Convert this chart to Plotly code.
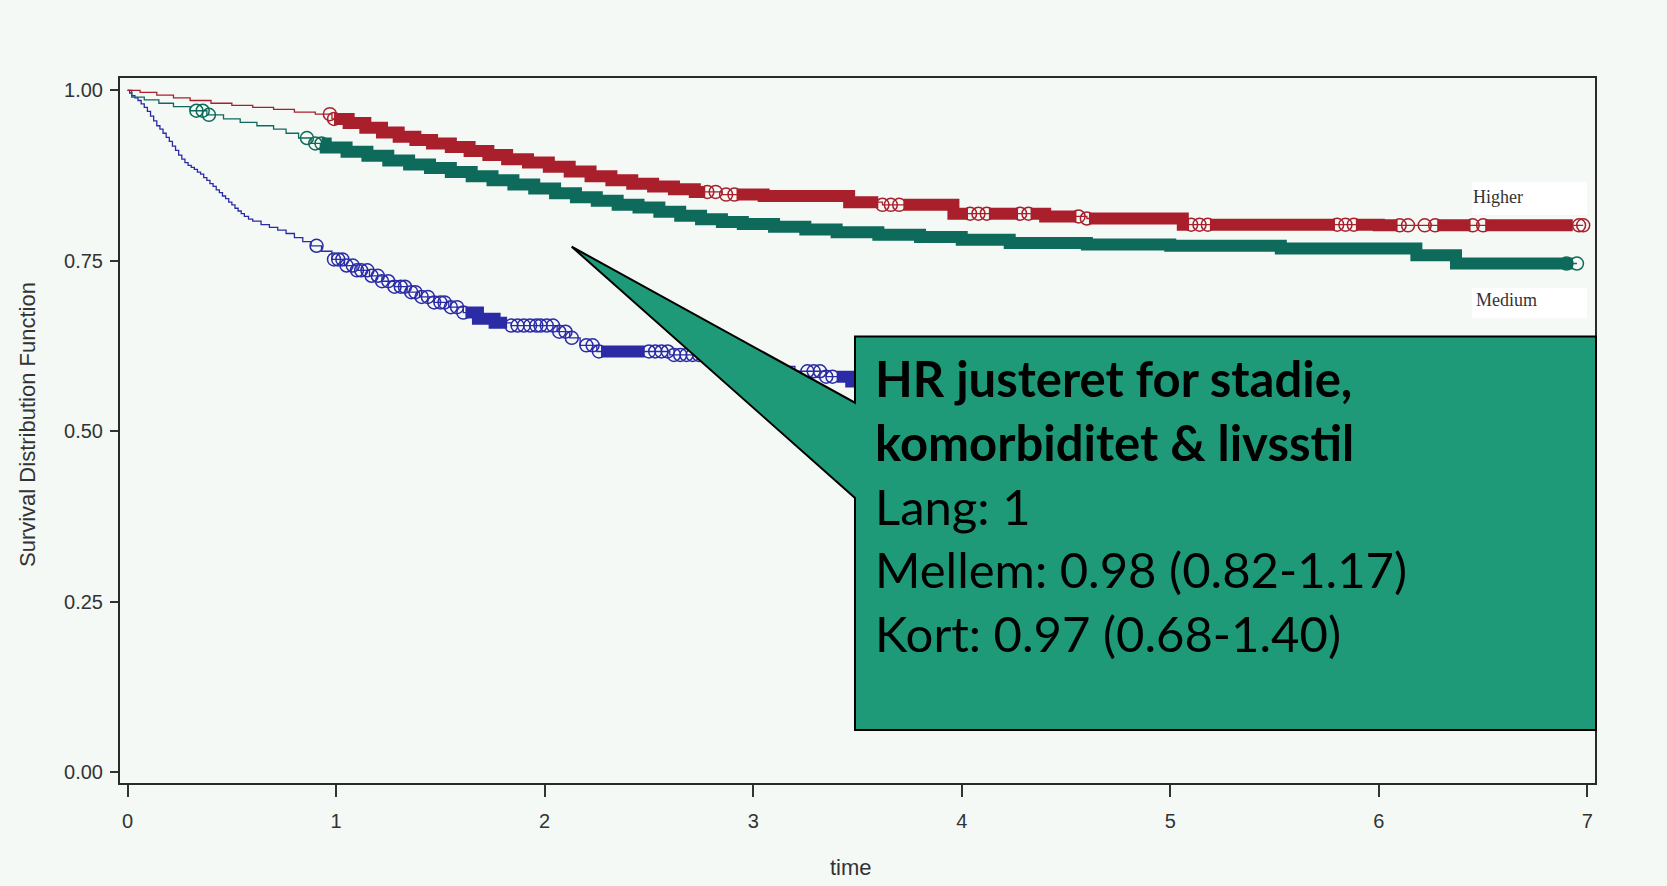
import numpy as np
import plotly.graph_objects as go

# ---------------- data ----------------
# Kaplan-Meier step knots: survival value holding from each time onward
higher_t = [0, 0.06, 0.14, 0.22, 0.3, 0.4, 0.5, 0.6, 0.7, 0.8, 0.9, 0.98, 1.06, 1.14, 1.22, 1.3,
            1.38, 1.46, 1.55, 1.64, 1.73, 1.82, 1.92, 2.02, 2.12, 2.22, 2.32, 2.42, 2.52, 2.62,
            2.72, 2.85, 3.05, 3.46, 3.62, 3.96, 4.4, 4.6, 5.06, 6.0]
higher_s = [1.0, 0.997, 0.993, 0.989, 0.985, 0.981, 0.978, 0.975, 0.972, 0.968, 0.965, 0.958,
            0.952, 0.945, 0.938, 0.932, 0.927, 0.922, 0.917, 0.911, 0.905, 0.899, 0.894, 0.888,
            0.881, 0.874, 0.868, 0.863, 0.859, 0.855, 0.851, 0.847, 0.845, 0.836, 0.832, 0.819,
            0.815, 0.812, 0.803, 0.802]
higher_end = 6.98

medium_t = [0, 0.02, 0.08, 0.15, 0.22, 0.3, 0.38, 0.46, 0.54, 0.62, 0.7, 0.76, 0.82, 0.88, 0.95,
            1.05, 1.15, 1.25, 1.35, 1.45, 1.55, 1.65, 1.75, 1.85, 1.95, 2.05, 2.15, 2.25, 2.35,
            2.45, 2.55, 2.65, 2.75, 2.85, 2.95, 3.1, 3.25, 3.4, 3.6, 3.8, 4.0, 4.23, 4.6, 5.0,
            5.53, 6.18, 6.37]
medium_s = [1.0, 0.99, 0.986, 0.981, 0.976, 0.970, 0.964, 0.958, 0.953, 0.948, 0.943, 0.937,
            0.930, 0.922, 0.916, 0.910, 0.904, 0.897, 0.891, 0.886, 0.880, 0.874, 0.868, 0.862,
            0.856, 0.849, 0.843, 0.838, 0.832, 0.828, 0.822, 0.816, 0.811, 0.807, 0.804, 0.800,
            0.796, 0.792, 0.788, 0.785, 0.781, 0.776, 0.774, 0.772, 0.768, 0.758, 0.746]
medium_end = 6.95

lower_t = [0, 0.01, 0.02, 0.035, 0.05, 0.065, 0.08, 0.095, 0.11, 0.125, 0.14, 0.155, 0.17, 0.185,
           0.2, 0.215, 0.23, 0.245, 0.26, 0.275, 0.29, 0.305, 0.32, 0.335, 0.35, 0.365, 0.38,
           0.395, 0.41, 0.425, 0.44, 0.455, 0.47, 0.485, 0.5, 0.515, 0.53, 0.545, 0.56, 0.58, 0.6,
           0.64, 0.68, 0.72, 0.76, 0.8, 0.84, 0.88, 0.93, 0.98,
           1.04, 1.1, 1.16, 1.22, 1.28, 1.34, 1.4, 1.47, 1.54, 1.61, 1.68, 1.76, 1.84, 2.06, 2.12,
           2.17, 2.25, 2.6, 2.75, 2.9, 3.05, 3.2, 3.35, 3.47, 3.7, 4.0, 4.4, 4.9, 5.5, 6.2]
lower_s = [1.0, 0.996, 0.992, 0.989, 0.985, 0.98, 0.975, 0.969, 0.962, 0.955, 0.948, 0.943,
           0.937, 0.931, 0.925, 0.918, 0.912, 0.905, 0.899, 0.894, 0.89, 0.887, 0.884, 0.880,
           0.877, 0.872, 0.868, 0.863, 0.859, 0.854, 0.85, 0.845, 0.841, 0.836, 0.832, 0.827,
           0.823, 0.819, 0.815, 0.811, 0.808,
           0.803, 0.799, 0.795, 0.79, 0.784, 0.778, 0.772, 0.764, 0.752,
           0.743, 0.736, 0.728, 0.72, 0.712, 0.704, 0.697, 0.689, 0.682, 0.674, 0.665, 0.659,
           0.655, 0.646, 0.637, 0.626, 0.617, 0.612, 0.606, 0.601, 0.595, 0.588, 0.58, 0.573,
           0.566, 0.56, 0.555, 0.551, 0.548, 0.545]
lower_end = 6.9

# censored observations: isolated censor times and densely censored stretches
higher_cens = [0.97, 0.99, 2.78, 2.82, 2.87, 2.91, 3.62, 3.66, 3.7, 4.04, 4.08, 4.12, 4.28, 4.32,
               4.56, 4.6, 5.1, 5.14, 5.18, 5.8, 5.84, 5.88, 6.1, 6.14, 6.22, 6.27, 6.45, 6.5,
               6.96, 6.98]
higher_dense = [(0.99, 2.77), (2.92, 3.6), (3.72, 4.03), (4.13, 4.27), (4.33, 4.55), (4.61, 5.09),
                (5.19, 5.79), (5.89, 6.09), (6.28, 6.44), (6.51, 6.93)]

medium_cens = [0.33, 0.36, 0.39, 0.86, 0.9, 0.93, 6.9, 6.95]
medium_dense = [(0.93, 6.93)]

lower_cens = [0.906, 0.99, 1.01, 1.03, 1.05, 1.08, 1.1, 1.12, 1.15, 1.17, 1.2, 1.22, 1.25, 1.28,
              1.31, 1.33, 1.36, 1.38, 1.41, 1.44, 1.47, 1.5, 1.52, 1.55, 1.58, 1.61, 1.84, 1.87,
              1.9, 1.93, 1.96, 1.98, 2.01, 2.04, 2.07, 2.1, 2.13, 2.2, 2.23, 2.26, 2.5, 2.53,
              2.56, 2.59, 2.62, 2.65, 2.68, 2.71, 2.74, 3.26, 3.29, 3.32, 3.35, 3.38]
lower_dense = [(1.62, 1.82), (2.27, 2.48), (3.4, 3.6)]

x_ticks = [0, 1, 2, 3, 4, 5, 6, 7]
y_ticks = [0.0, 0.25, 0.5, 0.75, 1.0]

callout_lines = ["<b>HR justeret for stadie,</b>", "<b>komorbiditet & livsstil</b>",
                 "Lang: 1", "Mellem: 0.98 (0.82-1.17)", "Kort: 0.97 (0.68-1.40)"]

# ---------------- styling ----------------
RED, GREEN, BLUE = "#a91f2b", "#0e6a5a", "#2b2ba6"
BG = "#f4f9f6"
W, H = 1667, 886
PL, PR, PT, PB = 120, 1595, 78, 783


def px_x(x):
    return (x - PL) / (PR - PL)


def px_y(y):
    return (PB - y) / (PB - PT)


def surv_at(tk, sk, t):
    i = np.searchsorted(np.asarray(tk), t, side="right") - 1
    return np.asarray(sk)[i]


def curve_xy(tk, sk, end):
    x = list(tk) + [end]
    y = list(sk) + [sk[-1]]
    return x, y


def band_xy(tk, sk, ranges):
    xs, ys = [], []
    for a, b in ranges:
        inner = [t for t in tk if a < t <= b]
        pts = [a] + inner + [b]
        xs += pts + [None]
        ys += [float(surv_at(tk, sk, p)) for p in pts] + [None]
    return xs, ys


fig = go.Figure()
series = [
    ("Lower", lower_t, lower_s, lower_end, lower_cens, lower_dense, BLUE),
    ("Medium", medium_t, medium_s, medium_end, medium_cens, medium_dense, GREEN),
    ("Higher", higher_t, higher_s, higher_end, higher_cens, higher_dense, RED),
]
for name, tk, sk, end, cens, dense, col in series:
    cx, cy = curve_xy(tk, sk, end)
    fig.add_trace(go.Scatter(x=cx, y=cy, mode="lines", line=dict(color=col, width=1.3, shape="hv"),
                             name=name, showlegend=False, hoverinfo="skip"))
    bx, by = band_xy(tk, sk, dense)
    fig.add_trace(go.Scatter(x=bx, y=by, mode="lines", line=dict(color=col, width=12, shape="hv"),
                             connectgaps=False, showlegend=False, hoverinfo="skip"))
    fig.add_trace(go.Scatter(x=cens, y=[float(surv_at(tk, sk, c)) for c in cens], mode="markers",
                             marker=dict(symbol="circle-open", size=13, color=col,
                                         line=dict(width=1.5, color=col)),
                             showlegend=False, hoverinfo="skip"))

axis_common = dict(showline=True, mirror=True, linecolor="#2a2a2a", linewidth=2, showgrid=False,
                   zeroline=False, ticks="outside", tickcolor="#333", tickwidth=1.5,
                   tickfont=dict(family="Liberation Sans, Arial", size=20, color="#333"))
fig.update_xaxes(range=[-0.0364, 7.0366], tickvals=x_ticks, ticklen=12, ticklabelstandoff=7,
                 **axis_common)
fig.update_yaxes(range=[-0.0157, 1.0180], tickvals=y_ticks, tickformat=".2f", ticklen=8,
                 ticklabelstandoff=3, **axis_common)

shapes = []
# white label boxes
shapes.append(dict(type="rect", xref="paper", yref="paper", x0=px_x(1472), x1=px_x(1587),
                   y0=px_y(215), y1=px_y(182), fillcolor="white", line=dict(width=0), layer="below"))
shapes.append(dict(type="rect", xref="paper", yref="paper", x0=px_x(1472), x1=px_x(1587),
                   y0=px_y(318), y1=px_y(288), fillcolor="white", line=dict(width=0), layer="below"))
# callout
pts = [(855, 336.5), (1596, 336.5), (1596, 730), (855, 730), (855, 498), (571.7, 246.7), (855, 402.7)]
path = "M " + " L ".join(f"{px_x(x):.5f},{px_y(y):.5f}" for x, y in pts) + " Z"
shapes.append(dict(type="path", xref="paper", yref="paper", path=path, fillcolor="#1f9a79",
                   line=dict(color="black", width=2), layer="above"))

serif = dict(family="Liberation Serif, Times New Roman", size=18, color="#333")
sans = dict(family="Liberation Sans, Arial", size=22, color="#333")
ann = []
ann.append(dict(text="Higher", x=px_x(1498), y=px_y(197), font=serif))
ann.append(dict(text="Medium", x=px_x(1506), y=px_y(300), font=serif))
ann.append(dict(text="Survival Distribution Function", x=px_x(27), y=px_y(424), textangle=-90,
                font=sans))
ann.append(dict(text="time", x=px_x(851), y=px_y(867), font=sans))
for a in ann:
    a.update(xref="paper", yref="paper", xanchor="center", yanchor="middle", showarrow=False)
for i, line in enumerate(callout_lines):
    base = 395 + 63.75 * i
    ann.append(dict(text=line, x=px_x(873), y=px_y(base - 17), xref="paper", yref="paper",
                    xanchor="left", yanchor="middle", showarrow=False,
                    font=dict(family="Lato", size=49, color="black")))

fig.update_layout(width=W, height=H, margin=dict(l=PL, r=W - PR, t=PT, b=H - PB),
                  paper_bgcolor=BG, plot_bgcolor=BG, shapes=shapes, annotations=ann,
                  showlegend=False)
fig.write_html("out.html")
